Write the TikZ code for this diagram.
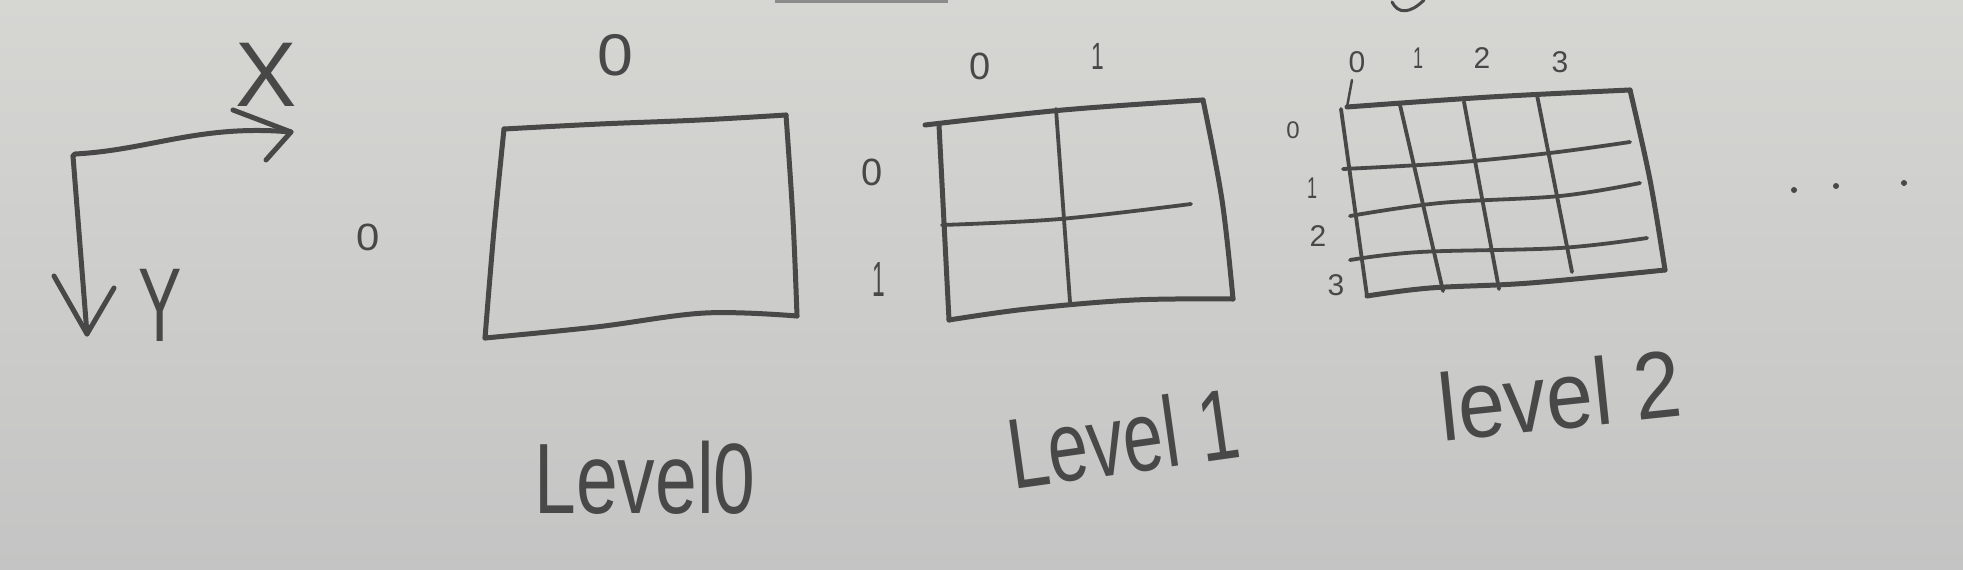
\documentclass[tikz,border=0pt]{standalone}
\usepackage{fontspec}
\setmainfont{Liberation Sans}
\usepackage{graphicx}
\definecolor{paperTop}{RGB}{214,214,211}
\definecolor{paperBot}{RGB}{196,196,196}
\definecolor{pencil}{RGB}{72,72,72}
\definecolor{edge}{RGB}{140,140,140}
\begin{document}
\begin{tikzpicture}[x=1pt,y=-1pt,
  pen/.style={draw=pencil, line width=5pt, line cap=round, line join=round},
  thinpen/.style={draw=pencil, line width=3.8pt, line cap=round, line join=round},
  lbl/.style={text=pencil, inner sep=0pt, anchor=center},
  big/.style={lbl, font=\fontsize{100}{110}\selectfont},
  mid/.style={lbl, font=\fontsize{56}{60}\selectfont},
  small/.style={lbl, font=\fontsize{38}{40}\selectfont},
  tiny/.style={lbl, font=\fontsize{30}{32}\selectfont}]
\useasboundingbox (0,0) rectangle (1963,570);
\shade[top color=paperTop, bottom color=paperBot] (0,0) rectangle (1963,570);
\fill[edge] (775,0) rectangle (948,3);
\draw[thinpen, line width=3pt] (1392,2) .. controls (1398,14) and (1410,14) .. (1424,0);

% axes
\coordinate (O) at (73,156);
\coordinate (xt) at (291,132);
\coordinate (yt) at (87,334);
\draw[pen] (O) -- (75,154) .. controls (150,150) and (200,124) .. (xt);
\draw[pen] (233,110) -- (xt) -- (266,160);
\draw[pen] (O) -- (yt);
\draw[pen] (54,276) -- (yt) -- (114,288);
\node[big, font=\fontsize{92}{100}\selectfont] (X) at (266,75) {X};
\node[big] (Y) at (160,305) {\scalebox{0.65}[1.05]{Y}};

% level 0
\coordinate (a0) at (504,129);
\coordinate (b0) at (786,115);
\coordinate (c0) at (797,316);
\coordinate (d0) at (485,338);
\draw[pen] plot[smooth, tension=0.6] coordinates {(a0) (600,124) (700,120) (b0)};
\draw[pen] plot[smooth, tension=0.6] coordinates {(b0) (793,220) (c0)};
\draw[pen] plot[smooth, tension=0.6] coordinates {(d0) (596,327) (705,313) (c0)};
\draw[pen] plot[smooth, tension=0.6] coordinates {(a0) (494,230) (d0)};
\node[mid] (l0x0) at (615,55) {\scalebox{1.15}[1.05]{0}};
\node[small] (l0y0) at (368,237) {\scalebox{1.1}[1]{0}};
\node[big] (L0) at (645,478) {\scalebox{0.75}[1]{Level0}};

% level 1
\coordinate (a1) at (925,125);
\coordinate (b1) at (1203,100);
\coordinate (c1) at (1233,299);
\coordinate (d1) at (949,320);
\draw[pen] plot[smooth, tension=0.6] coordinates {(a1) (1063,110) (b1)};
\draw[pen] plot[smooth, tension=0.6] coordinates {(b1) (1222,200) (c1)};
\draw[pen] plot[smooth, tension=0.6] coordinates {(d1) (1027,309) (1134,300) (c1)};
\draw[pen] (939,125) -- (d1);
\draw[thinpen] (1056,109) -- (1070,302);
\draw[thinpen] plot[smooth, tension=0.6] coordinates {(942,225) (1060,219) (1191,204)};
\node[small] (l1x0) at (980,66) {0};
\node[small] (l1x1) at (1098,56) {\scalebox{0.6}[1]{1}};
\node[small] (l1y0) at (872,172) {0};
\node[small] (l1y1) at (879,280) {\scalebox{0.6}[1.3]{1}};
\node[big, rotate=8] (L1) at (1123,438) {\scalebox{0.72}[1]{Level 1}};

% level 2
\coordinate (a2) at (1347,107);
\coordinate (b2) at (1630,90);
\coordinate (c2) at (1665,270);
\coordinate (d2) at (1367,296);
\draw[pen] plot[smooth, tension=0.6] coordinates {(a2) (1490,97) (b2)};
\draw[pen] plot[smooth, tension=0.6] coordinates {(b2) (1650,180) (c2)};
\draw[pen] plot[smooth, tension=0.6] coordinates {(d2) (1430,288) (1530,283) (c2)};
\draw[thinpen] (1341,109) -- (d2);
\draw[thinpen] (1400,105) -- (1443,291);
\draw[thinpen] (1464,102) -- (1499,289);
\draw[thinpen] (1537,95) -- (1572,272);
\draw[thinpen] plot[smooth, tension=0.6] coordinates {(1343,169) (1450,163) (1550,153) (1630,142)};
\draw[thinpen] plot[smooth, tension=0.6] coordinates {(1350,216) (1440,203) (1560,196) (1640,183)};
\draw[thinpen] plot[smooth, tension=0.6] coordinates {(1350,260) (1420,252) (1560,248) (1647,238)};
\draw[thinpen, line width=2.5pt] (1352,80) -- (a2);
\node[tiny] (l2x0) at (1357,62) {0};
\node[tiny] (l2x1) at (1418,58) {\scalebox{0.6}[1]{1}};
\node[tiny] (l2x2) at (1482,58) {2};
\node[tiny] (l2x3) at (1560,62) {3};
\node[tiny, font=\fontsize{24}{26}\selectfont] (l2y0) at (1293,130) {0};
\node[tiny] (l2y1) at (1312,188) {\scalebox{0.6}[1]{1}};
\node[tiny] (l2y2) at (1318,236) {2};
\node[tiny] (l2y3) at (1336,285) {3};
\node[big, rotate=6] (L2) at (1560,395) {\scalebox{0.84}[0.95]{level 2}};

% continuation dots
\fill[pencil] (1794,190) circle (3);
\fill[pencil] (1836,186) circle (3);
\fill[pencil] (1904,183) circle (3);
\end{tikzpicture}
\end{document}
